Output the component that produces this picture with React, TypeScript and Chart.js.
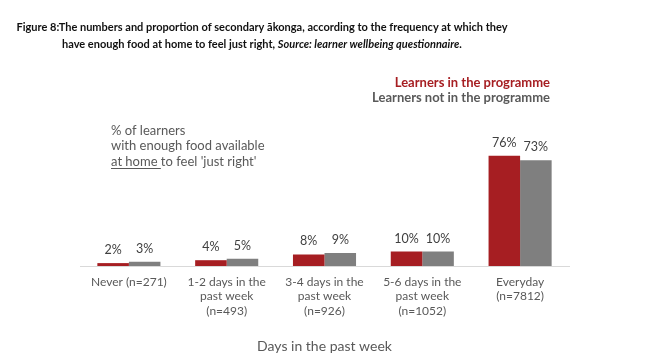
import React, { useEffect, useRef } from "react";
import { Chart, registerables } from "chart.js";

Chart.register(...registerables);

const categories: string[][] = [
  ["Never (n=271)"],
  ["1-2 days in the", "past week", "(n=493)"],
  ["3-4 days in the", "past week", "(n=926)"],
  ["5-6 days in the", "past week", "(n=1052)"],
  ["Everyday", "(n=7812)"],
];
const inProgramme = [2, 4, 8, 10, 76];
const notInProgramme = [3, 5, 9, 10, 73];
const seriesNames = ["Learners in the programme", "Learners not in the programme"];
const titleLine1 =
  "Figure 8:The numbers and proportion of secondary ākonga, according to the frequency at which they";
const titleLine2a = "have enough food at home to feel just right, ";
const titleLine2b = "Source: learner wellbeing questionnaire.";
const noteLines = ["% of learners", "with enough food available"];
const noteUnderlined = "at home ";
const noteRest = "to feel 'just right'";
const xTitle = "Days in the past week";

const RED = "#A61E22";
const GREY = "#7F7F7F";
const TEXT = "#595959";
const FONT = "Lato";

const decorPlugin = {
  id: "decor",
  afterDatasetsDraw(chart: any) {
    const ctx = chart.ctx as CanvasRenderingContext2D;
    const area = chart.chartArea;
    ctx.save();
    // data labels
    ctx.font = `12.5px ${FONT}`;
    ctx.fillStyle = "#404040";
    ctx.textAlign = "center";
    ctx.textBaseline = "middle";
    chart.data.datasets.forEach((ds: any, i: number) => {
      const meta = chart.getDatasetMeta(i);
      meta.data.forEach((bar: any, j: number) => {
        ctx.fillText(`${ds.data[j]}%`, bar.x, bar.y - 13);
      });
    });

    // title
    ctx.fillStyle = "#111";
    ctx.textAlign = "left";
    const cx = 262;
    ctx.font = `bold 11px ${FONT}`;
    const w1 = ctx.measureText(titleLine1).width;
    ctx.fillText(titleLine1, cx - w1 / 2, 27);
    const wa = ctx.measureText(titleLine2a).width;
    ctx.font = `italic bold 11px ${FONT}`;
    const wb = ctx.measureText(titleLine2b).width;
    const start = cx - (wa + wb) / 2;
    ctx.font = `bold 11px ${FONT}`;
    ctx.fillText(titleLine2a, start, 44);
    ctx.font = `italic bold 11px ${FONT}`;
    ctx.fillText(titleLine2b, start + wa, 44);

    // legend
    ctx.font = `bold 13px ${FONT}`;
    ctx.textAlign = "right";
    ctx.fillStyle = RED;
    ctx.fillText(seriesNames[0], 550, 83);
    ctx.fillStyle = TEXT;
    ctx.fillText(seriesNames[1], 550, 97.5);

    // note
    ctx.font = `13px ${FONT}`;
    ctx.textAlign = "left";
    ctx.fillStyle = TEXT;
    ctx.fillText(noteLines[0], 111, 131);
    ctx.fillText(noteLines[1], 111, 146);
    ctx.fillText(noteUnderlined, 111, 162);
    const uw = ctx.measureText(noteUnderlined).width;
    ctx.fillText(noteRest, 111 + uw, 162);
    ctx.strokeStyle = TEXT;
    ctx.lineWidth = 1;
    ctx.beginPath();
    ctx.moveTo(111, 168.5);
    ctx.lineTo(111 + uw, 168.5);
    ctx.stroke();

    // x axis title
    ctx.font = `14px ${FONT}`;
    ctx.textAlign = "center";
    ctx.fillStyle = TEXT;
    ctx.fillText(xTitle, (area.left + area.right) / 2, 346);
    ctx.restore();
  },
};

export default function App() {
  const ref = useRef<HTMLCanvasElement>(null);
  useEffect(() => {
    const chart = new Chart(ref.current!, {
      type: "bar",
      data: {
        labels: categories,
        datasets: [
          {
            label: seriesNames[0],
            data: inProgramme,
            backgroundColor: RED,
            categoryPercentage: 0.645,
            barPercentage: 1,
          },
          {
            label: seriesNames[1],
            data: notInProgramme,
            backgroundColor: GREY,
            categoryPercentage: 0.645,
            barPercentage: 1,
          },
        ],
      },
      options: {
        animation: false,
        responsive: false,
        maintainAspectRatio: false,
        layout: { padding: { left: 80, right: 77, top: 121, bottom: 0 } },
        plugins: { legend: { display: false }, tooltip: { enabled: false }, title: { display: false } },
        scales: {
          x: {
            grid: { display: false, drawTicks: false },
            border: { display: true, color: "#D9D9D9", width: 1 },
            ticks: {
              color: TEXT,
              font: { family: FONT, size: 12, lineHeight: 1.2 },
              padding: 9,
              maxRotation: 0,
              autoSkip: false,
            },
            afterFit: (scale: any) => {
              scale.height = 97;
            },
          },
          y: { display: false, min: 0, max: 100 },
        },
      },
      plugins: [decorPlugin],
    });
    return () => chart.destroy();
  }, []);
  return (
    <div style={{ position: "fixed", left: 0, top: 0, width: 646, height: 363, background: "#fff" }}>
      <canvas ref={ref} width={646} height={363} style={{ width: 646, height: 363 }} />
    </div>
  );
}
